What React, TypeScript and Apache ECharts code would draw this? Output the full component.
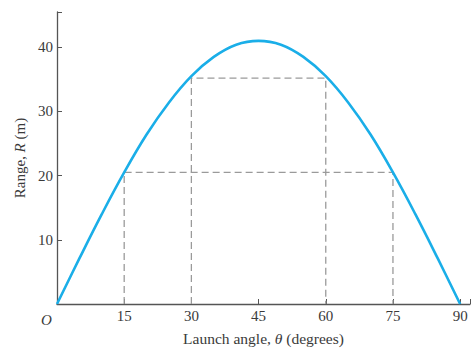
import React, { useEffect, useRef } from "react";
import * as echarts from "echarts";

const angles = [0, 5, 10, 15, 20, 25, 30, 35, 40, 45, 50, 55, 60, 65, 70, 75, 80, 85, 90];
const ranges = [0, 7.1, 14.0, 20.5, 26.4, 31.4, 35.5, 38.5, 40.4, 41.0, 40.4, 38.5, 35.5, 31.4, 26.4, 20.5, 14.0, 7.1, 0];
const xTicks = [15, 30, 45, 60, 75, 90];
const yTicks = [10, 20, 30, 40];
const lowPair = [15, 75];
const lowRange = 20.5;
const highPair = [30, 60];
const highRange = 35.2;

const serif = "'Liberation Serif', 'DejaVu Serif', serif";
const textColor = "#3a3a3a";

export default function App() {
  const ref = useRef<HTMLDivElement>(null);
  useEffect(() => {
    if (!ref.current) return;
    const chart = echarts.init(ref.current, null, { renderer: "svg" });
    const dash = (pair: number[], r: number) => [
      [pair[0], 0],
      [pair[0], r],
      [pair[1], r],
      [pair[1], 0],
    ];
    chart.setOption({
      animation: false,
      backgroundColor: "#ffffff",
      grid: { left: 57, right: 0, top: 12, bottom: 43 },
      xAxis: {
        type: "value",
        min: 0,
        max: 92.2,
        interval: 15,
        axisLine: { lineStyle: { color: "#555", width: 1.3 } },
        axisTick: { show: true, inside: true, length: 5, lineStyle: { color: "#555" } },
        splitLine: { show: false },
        axisLabel: {
          margin: 4,
          color: textColor,
          fontFamily: serif,
          fontSize: 15,
          showMinLabel: false,
          formatter: (v: number) => (xTicks.includes(v) ? String(v) : ""),
        },
        name: "Launch angle, {i|θ} (degrees)",
        nameLocation: "middle",
        nameGap: 26,
        nameTextStyle: {
          color: textColor,
          fontFamily: serif,
          fontSize: 15.5,
          rich: { i: { fontStyle: "italic", fontFamily: serif, fontSize: 15.5, color: textColor } },
        },
      },
      yAxis: {
        type: "value",
        min: 0,
        max: 45.5,
        interval: 10,
        axisLine: { show: true, lineStyle: { color: "#555", width: 1.3 } },
        axisTick: { show: true, inside: true, length: 5, lineStyle: { color: "#555" } },
        splitLine: { show: false },
        axisLabel: {
          margin: 4,
          color: textColor,
          fontFamily: serif,
          fontSize: 15,
          formatter: (v: number) => (yTicks.includes(v) ? String(v) : ""),
        },
        name: "Range, {i|R} (m)",
        nameLocation: "middle",
        nameGap: 30,
        nameTextStyle: {
          color: textColor,
          fontFamily: serif,
          fontSize: 15,
          rich: { i: { fontStyle: "italic", fontFamily: serif, fontSize: 15, color: textColor } },
        },
      },
      graphic: [
        {
          type: "text",
          left: 41,
          top: 312,
          style: { text: "O", fontFamily: serif, fontStyle: "italic", fontSize: 15, fill: textColor },
        },
      ],
      series: [
        {
          type: "line",
          data: dash(lowPair, lowRange),
          symbol: "none",
          lineStyle: { color: "#9a9a9a", width: 1.3, type: [7, 4] },
          z: 1,
        },
        {
          type: "line",
          data: dash(highPair, highRange),
          symbol: "none",
          lineStyle: { color: "#9a9a9a", width: 1.3, type: [7, 4] },
          z: 1,
        },
        {
          type: "line",
          data: angles.map((a, i) => [a, ranges[i]]),
          smooth: 0.4,
          symbol: "none",
          lineStyle: { color: "#1aaee8", width: 2.6 },
          z: 3,
        },
      ],
    });
    return () => chart.dispose();
  }, []);
  return (
    <div
      ref={ref}
      style={{ position: "fixed", left: 0, top: 0, width: 473, height: 351, background: "#fff" }}
    />
  );
}
